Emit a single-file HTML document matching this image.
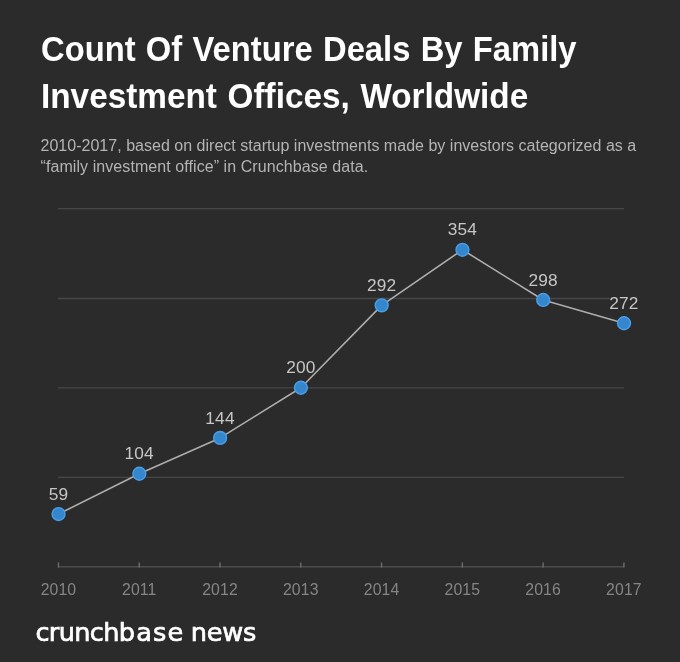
<!DOCTYPE html>
<html lang="en">
<head>
<meta charset="utf-8">
<title>Count Of Venture Deals By Family Investment Offices, Worldwide</title>
<style>
  html, body { margin: 0; padding: 0; }
  body {
    width: 680px; height: 662px; overflow: hidden;
    background: #2b2b2b;
    font-family: "Liberation Sans", sans-serif;
    position: relative;
  }
  .wrap { position: absolute; left: 0; top: 0; width: 680px; height: 662px; will-change: transform; }
  .title {
    position: absolute; left: 0; top: 0; margin: 0;
    font-size: 35px; line-height: 40px; font-weight: bold;
    color: #ffffff; white-space: nowrap;
  }
  .title span { position: absolute; left: 40.5px; display: block; transform-origin: 0 50%; }
  .title .l1 { top: 29px; transform: scaleX(0.936); word-spacing: 1.25px; }
  .title .l2 { top: 76px; transform: scaleX(0.952); word-spacing: 1.45px; }
  .sub .s2 { letter-spacing: 0.075px; }
  .logo .c1 { letter-spacing: -0.65px; }
  .logo .c2 { letter-spacing: 1.1px; }
  .logo .c3 { letter-spacing: -0.2px; word-spacing: -1.5px; }
  .sub {
    position: absolute; left: 40.5px; top: 134.5px; margin: 0;
    font-size: 16px; line-height: 21px; color: #b4b4b4; letter-spacing: 0.02px;
    white-space: nowrap;
  }
  svg { position: absolute; left: 0; top: 0; }
  .lbl { font-size: 17.3px; letter-spacing: 0.16px; fill: #c6c6c6; text-anchor: middle; }
  .yr { font-size: 15.8px; letter-spacing: 0.12px; fill: #858585; text-anchor: middle; }
  .logo {
    position: absolute; left: 35.4px; top: 617.2px; margin: 0;
    font-family: "DejaVu Sans", "Liberation Sans", sans-serif;
    font-size: 25.6px; line-height: 30px; color: #ffffff; white-space: nowrap;
    letter-spacing: -0.12px; -webkit-text-stroke: 0.7px #ffffff;
  }
</style>
</head>
<body>
<div class="wrap">
<h1 class="title"><span class="l1">Count Of Venture Deals By Family</span> <span class="l2">Investment Offices, Worldwide</span></h1>
<p class="sub">2010-2017, based on direct startup investments made by investors categorized as a<br><span class="s2">“family investment office” in Crunchbase data.</span></p>

<svg width="680" height="662" viewBox="0 0 680 662" font-family="'Liberation Sans', sans-serif">
  <g stroke="#474747" stroke-width="1.3" fill="none">
    <line x1="58" y1="208.6" x2="624" y2="208.6"/>
    <line x1="58" y1="298.5" x2="624" y2="298.5"/>
    <line x1="58" y1="387.9" x2="624" y2="387.9"/>
    <line x1="58" y1="477.35" x2="624" y2="477.35"/>
  </g>
  <line x1="58" y1="566.7" x2="624" y2="566.7" stroke="#4c4c4c" stroke-width="1.5"/>
  <g stroke="#6a6a6a" stroke-width="1.5" fill="none">
    <line x1="58.45" y1="562.4" x2="58.45" y2="567.6"/>
    <line x1="139.23" y1="562.4" x2="139.23" y2="567.6"/>
    <line x1="220.01" y1="562.4" x2="220.01" y2="567.6"/>
    <line x1="300.79" y1="562.4" x2="300.79" y2="567.6"/>
    <line x1="381.57" y1="562.4" x2="381.57" y2="567.6"/>
    <line x1="462.35" y1="562.4" x2="462.35" y2="567.6"/>
    <line x1="543.13" y1="562.4" x2="543.13" y2="567.6"/>
    <line x1="623.91" y1="562.4" x2="623.91" y2="567.6"/>
  </g>
  <rect x="609.6" y="293" width="29" height="17" fill="#2b2b2b"/>
  <polyline fill="none" stroke="#adadad" stroke-width="1.6" stroke-linejoin="round" points="58.55,514.05 139.33,473.74 220.11,437.91 300.89,387.75 381.67,305.34 462.45,249.80 543.23,299.97 624.01,323.26"/>
  <g fill="#3487cd" stroke="#4a9fe8" stroke-width="1.4">
    <circle cx="58.55" cy="514.05" r="6.45"/>
    <circle cx="139.33" cy="473.74" r="6.45"/>
    <circle cx="220.11" cy="437.91" r="6.45"/>
    <circle cx="300.89" cy="387.75" r="6.45"/>
    <circle cx="381.67" cy="305.34" r="6.45"/>
    <circle cx="462.45" cy="249.80" r="6.45"/>
    <circle cx="543.23" cy="299.97" r="6.45"/>
    <circle cx="624.01" cy="323.26" r="6.45"/>
  </g>
  <g class="lbl">
    <text x="58.45" y="499.65">59</text>
    <text x="139.23" y="459.34">104</text>
    <text x="220.01" y="423.51">144</text>
    <text x="300.79" y="373.35">200</text>
    <text x="381.57" y="290.94">292</text>
    <text x="462.35" y="235.40">354</text>
    <text x="543.13" y="285.57">298</text>
    <text x="623.91" y="308.86">272</text>
  </g>
  <g class="yr">
    <text x="58.45" y="594.8">2010</text>
    <text x="139.23" y="594.8">2011</text>
    <text x="220.01" y="594.8">2012</text>
    <text x="300.79" y="594.8">2013</text>
    <text x="381.57" y="594.8">2014</text>
    <text x="462.35" y="594.8">2015</text>
    <text x="543.13" y="594.8">2016</text>
    <text x="623.91" y="594.8">2017</text>
  </g>
</svg>

<p class="logo"><span class="c1">crunch</span><span class="c2">base</span><span class="c3"> news</span></p>
</div>
</body>
</html>
